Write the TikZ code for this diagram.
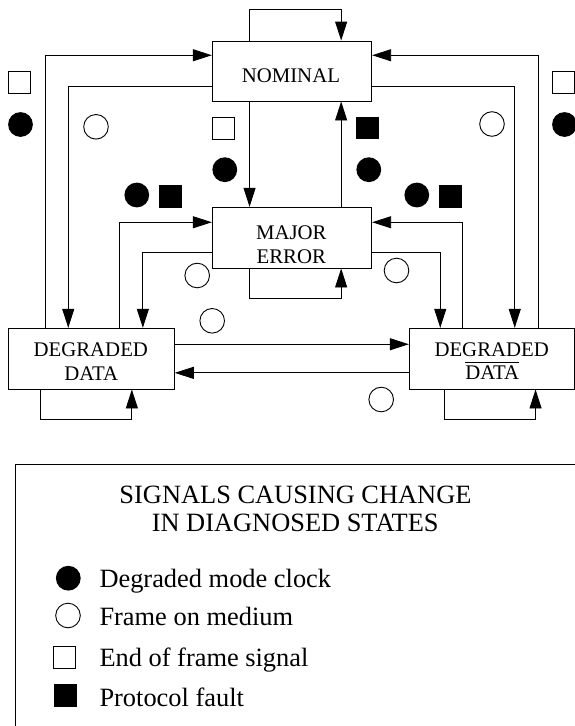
\documentclass[tikz,border=0pt]{standalone}
\usepackage{fontspec}
\setmainfont{Liberation Serif}
\usetikzlibrary{arrows.meta}
\begin{document}
\begin{tikzpicture}[x=1pt,y=-1pt,
  box/.style={draw,line width=0.9pt,inner sep=0pt,minimum width=159.4pt,minimum height=60.7pt},
  lbl/.style={inner sep=0pt,anchor=base,font=\fontsize{20.8}{24}\selectfont},
  leg/.style={inner sep=0pt,anchor=base,font=\fontsize{26.4}{31}\selectfont},
  legw/.style={leg,anchor=base west},
  arr/.style={line width=0.9pt,-{Triangle[length=19pt,width=12pt]}},
  ln/.style={line width=0.9pt},
  fc/.style={circle,fill=black,inner sep=0pt,minimum size=24.8pt},
  oc/.style={circle,draw,line width=0.9pt,inner sep=0pt,minimum size=24.6pt},
  os/.style={rectangle,draw,line width=0.9pt,inner sep=0pt,minimum size=22.1pt},
  fs/.style={rectangle,fill=black,inner sep=0pt,minimum size=22.7pt}]
\clip (0,0) rectangle (575,726);
\fill[white] (0,0) rectangle (575,726);

% state boxes
\node[box,minimum height=60pt] (nom) at (292,71) {};
\node[box] (maj) at (292,237.65) {};
\node[box,minimum width=166.3pt] (dd) at (91.15,358.65) {};
\node[box,minimum width=164.7pt] (ddb) at (491.65,358.65) {};

% box texts
\node[lbl] (tnom) at (290.9,82.3) {NOMINAL};
\node[lbl] (tmaj1) at (291.3,239.3) {MAJOR};
\node[lbl] (tmaj2) at (291.3,263.3) {ERROR};
\node[lbl] (tdd1) at (90.8,356.7) {DEGRADED};
\node[lbl] (tdd2) at (91.2,380) {DATA};
\node[lbl] (tddb1) at (491.7,356) {DEGRADED};
\node[lbl] (tddb2) at (492.2,379) {\vbox{\hrule height 0.9pt\kern2.6pt\hbox{DATA}}};

% connectors
\draw[arr] ([xshift=37.7pt]nom.north west) -- ++(0,-30.7) -| ([xshift=-31pt]nom.north east);
\draw[arr] ([xshift=37.7pt]nom.south west) -- ([xshift=37.7pt]maj.north west);
\draw[arr] ([xshift=-31pt]maj.north east) -- ([xshift=-31pt]nom.south east);
\draw[arr] ([xshift=37.7pt]maj.south west) -- ++(0,30) -| ([xshift=-31pt]maj.south east);
\draw[arr] ([xshift=37.7pt]dd.north west) |- ([yshift=-14.7pt]nom.north west);
\draw[arr] ([yshift=-45.7pt]nom.north west) -| ([xshift=60.7pt]dd.north west);
\draw[arr] ([xshift=-36.3pt]ddb.north east) |- ([yshift=-14.7pt]nom.north east);
\draw[arr] ([yshift=-45.7pt]nom.north east) -| ([xshift=-59.7pt]ddb.north east);
\draw[arr] ([xshift=112.3pt]dd.north west) |- ([yshift=-15.4pt]maj.north west);
\draw[arr] ([yshift=-45.4pt]maj.north west) -| ([xshift=135.3pt]dd.north west);
\draw[arr] ([yshift=-45.4pt]maj.north east) -| ([xshift=31.4pt]ddb.north west);
\draw[arr] ([xshift=54pt]ddb.north west) |- ([yshift=-15.4pt]maj.north east);
\draw[arr] ([yshift=-16.4pt]dd.north east) -- ([yshift=-16.4pt]ddb.north west);
\draw[arr] ([yshift=-45pt]ddb.north west) -- ([yshift=-45pt]dd.north east);
\draw[arr] ([xshift=33.3pt]dd.south west) -- ++(0,30) -| ([xshift=124.3pt]dd.south west);
\draw[arr] ([xshift=36pt]ddb.south west) -- ++(0,30) -| ([xshift=126.7pt]ddb.south west);

% signal symbols
\node[os] (s1) at (19.5,82.5) {};
\node[fc] (s2) at (20.5,124.5) {};
\node[oc] (s3) at (96,126.8) {};
\node[os] (s4) at (223.8,128) {};
\node[fc] (s5) at (224.8,169.7) {};
\node[fc] (s6) at (136.8,195) {};
\node[fs] (s7) at (170.7,196.3) {};
\node[fs] (s8) at (367.5,128) {};
\node[fc] (s9) at (368.8,169.7) {};
\node[fc] (s10) at (416.8,195) {};
\node[fs] (s11) at (450.3,196.3) {};
\node[oc] (s12) at (492,124) {};
\node[os] (s13) at (563.5,82.8) {};
\node[fc] (s14) at (564.5,124.5) {};
\node[oc] (s15) at (197.2,275.5) {};
\node[oc] (s16) at (212.2,320.8) {};
\node[oc] (s17) at (396.5,270.5) {};
\node[oc] (s18) at (381.2,399.5) {};

% legend
\draw[ln] (15.7,740) -- (15.7,464.7) -- (590,464.7);
\node[leg] (lt1) at (295.5,503) {SIGNALS CAUSING CHANGE};
\node[leg] (lt2) at (295.2,531.7) {IN DIAGNOSED STATES};
\node[fc] (l1) at (68.3,578.2) {};
\node[oc] (l2) at (68,615.5) {};
\node[os] (l3) at (64.7,657.7) {};
\node[fs] (l4) at (65.3,695.3) {};
\node[legw] (lx1) at (99.3,587.3) {Degraded mode clock};
\node[legw] (lx2) at (99.3,625.7) {Frame on medium};
\node[legw] (lx3) at (99.3,666.7) {End of frame signal};
\node[legw] (lx4) at (99.3,706.2) {Protocol fault};
\end{tikzpicture}
\end{document}
